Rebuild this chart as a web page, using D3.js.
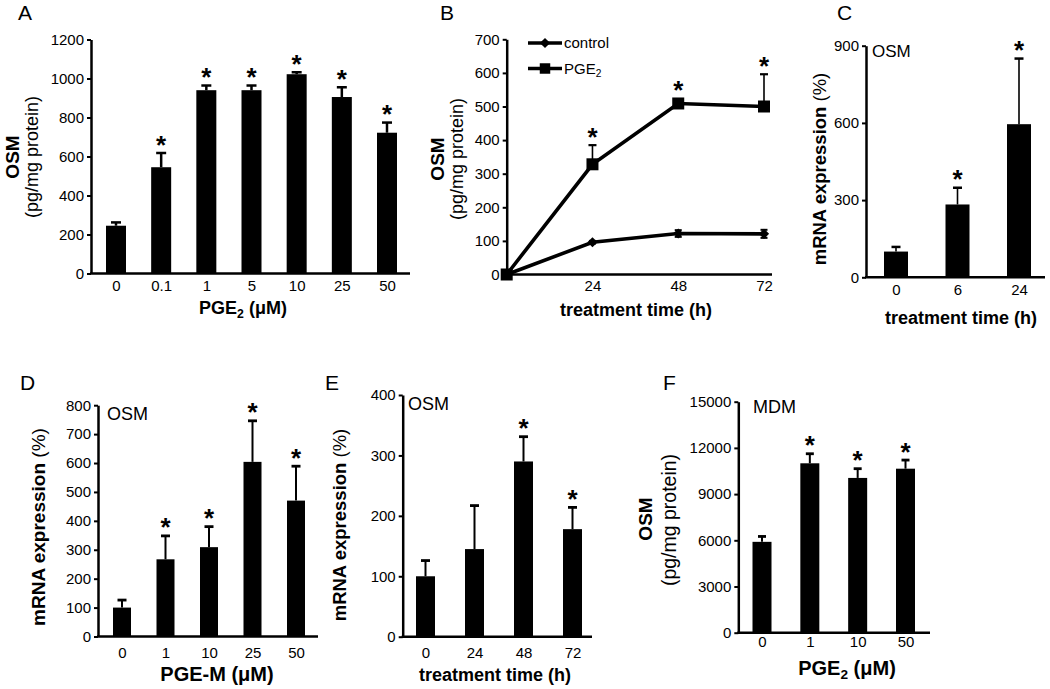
<!DOCTYPE html>
<html><head><meta charset="utf-8">
<script src="https://cdn.jsdelivr.net/npm/d3@7"></script>
<style>
body{margin:0;background:#fff;}
svg{display:block;}
</style></head><body>
<svg id="fig" width="1050" height="689"></svg>
<script>
// ---------------- DATA ----------------
// Panel A: OSM protein vs PGE2 dose
const aCategories = ["0","0.1","1","5","10","25","50"];
const aValues = [245, 545, 940, 940, 1022, 905, 722];
const aErrors = [17, 73, 24, 24, 10, 50, 52];
const aSignificant = [false, true, true, true, true, true, true];
const aTicks = [0, 200, 400, 600, 800, 1000, 1200];

// Panel B: OSM protein time course
const bTimes = [0, 24, 48, 72];
const bTimeTicks = [24, 48, 72];
const bControl = [0, 96, 122, 121];
const bControlErr = [0, 4, 10, 12];
const bPGE2 = [0, 328, 509, 500];
const bPGE2Err = [0, 57, 5, 96];
const bSignificant = [false, true, true, true];
const bTicks = [0, 100, 200, 300, 400, 500, 600, 700];
const bSeriesNames = ["control", "PGE2"];

// Panel C: OSM mRNA time course
const cCategories = ["0", "6", "24"];
const cValues = [100, 283, 595];
const cErrors = [18, 65, 255];
const cSignificant = [false, true, true];
const cTicks = [0, 300, 600, 900];

// Panel D: OSM mRNA vs PGE-M dose
const dCategories = ["0", "1", "10", "25", "50"];
const dValues = [100, 267, 309, 604, 470];
const dErrors = [26, 81, 71, 142, 119];
const dSignificant = [false, true, true, true, true];
const dTicks = [0, 100, 200, 300, 400, 500, 600, 700, 800];

// Panel E: OSM mRNA time course
const eCategories = ["0", "24", "48", "72"];
const eValues = [100, 145, 290, 178];
const eErrors = [26, 72, 41, 36];
const eSignificant = [false, false, true, true];
const eTicks = [0, 100, 200, 300, 400];

// Panel F: MDM OSM protein vs PGE2 dose
const fCategories = ["0", "1", "10", "50"];
const fValues = [5900, 11000, 10050, 10650];
const fErrors = [350, 620, 600, 560];
const fSignificant = [false, true, true, true];
const fTicks = [0, 3000, 6000, 9000, 12000, 15000];

// ---------------- DRAWING ----------------
const FONT = '"Liberation Sans", Arial, Helvetica, sans-serif';
const svg = d3.select("#fig");
svg.append("rect").attr("width",1050).attr("height",689).attr("fill","#fff");

function richText(parent, x, y, parts, opts) {
  const t = parent.append("text")
    .attr("font-family", FONT).attr("font-size", opts.fs)
    .attr("text-anchor", opts.anchor || "middle").attr("fill", "#000");
  if (opts.rotate) t.attr("transform", `translate(${x},${y}) rotate(-90)`);
  else t.attr("x", x).attr("y", y);
  if (opts.weight) t.attr("font-weight", opts.weight);
  let shift = 0;
  parts.forEach(p => {
    const s = t.append("tspan").text(p.t);
    if (p.w) s.attr("font-weight", p.w);
    if (p.sub) { s.attr("font-size", opts.fs * 0.68).attr("dy", opts.fs * 0.22); shift = opts.fs * 0.22; }
    else if (shift) { s.attr("dy", -shift); shift = 0; }
  });
  return t;
}

function letter(txt, x, y) {
  svg.append("text").attr("x", x).attr("y", y).attr("font-family", FONT)
    .attr("font-size", 21).attr("fill", "#000").text(txt);
}

function styleAxis(sel, fs, sw) {
  sel.attr("font-family", FONT).attr("font-size", fs);
  sel.select(".domain").attr("stroke", "#000").attr("stroke-width", sw);
  sel.selectAll(".tick line").attr("stroke", "#000").attr("stroke-width", 2);
  sel.selectAll(".tick text").attr("fill", "#000");
}

function addStar(g, x, yTopPx) {
  g.append("text").attr("x", x).attr("y", yTopPx + 6)
    .attr("text-anchor", "middle").attr("font-family", FONT)
    .attr("font-weight", "bold").attr("font-size", 26).attr("fill", "#000").text("*");
}

function barPanel(p) {
  const g = svg.append("g");
  const y = d3.scaleLinear().domain([0, p.yMax]).range([p.yBottom, p.yTop]);
  const x = d3.scalePoint().domain(p.categories).range([p.xFirst, p.xLast]);
  const rows = p.values.map((v, i) => ({ c: p.categories[i], v, e: p.errors[i], s: p.sig[i] }));

  g.selectAll("rect.bar").data(rows).join("rect").attr("class", "bar")
    .attr("x", d => x(d.c) - p.barW / 2).attr("y", d => y(d.v))
    .attr("width", p.barW).attr("height", d => y(0) - y(d.v)).attr("fill", "#000");

  g.selectAll("line.err").data(rows).join("line").attr("class", "err")
    .attr("x1", d => x(d.c)).attr("x2", d => x(d.c))
    .attr("y1", d => y(d.v)).attr("y2", d => y(d.v + d.e))
    .attr("stroke", "#000").attr("stroke-width", p.errW);
  g.selectAll("line.cap").data(rows).join("line").attr("class", "cap")
    .attr("x1", d => x(d.c) - p.capW / 2).attr("x2", d => x(d.c) + p.capW / 2)
    .attr("y1", d => y(d.v + d.e)).attr("y2", d => y(d.v + d.e))
    .attr("stroke", "#000").attr("stroke-width", p.capT);

  rows.filter(d => d.s).forEach(d => addStar(g, x(d.c), y(d.v + d.e) - p.capT / 2 - 4));

  const ya = g.append("g").attr("transform", `translate(${p.axisX},0)`)
    .call(d3.axisLeft(y).tickValues(p.ticks).tickSize(4).tickSizeOuter(0).tickPadding(3).tickFormat(d3.format("d")));
  styleAxis(ya, p.tickFs, 2.5);

  g.append("line").attr("x1", p.axisX - 1).attr("x2", p.xEnd)
    .attr("y1", y(0)).attr("y2", y(0)).attr("stroke", "#000").attr("stroke-width", 2.5);

  const xa = g.append("g").attr("transform", `translate(0,${y(0)})`)
    .call(d3.axisBottom(x).tickSize(0).tickPadding(p.xLabelBase - y(0) - 0.71 * p.tickFs));
  xa.select(".domain").remove();
  styleAxis(xa, p.tickFs, 2.5);
  return g;
}

// ---- Panel A ----
letter("A", 18, 20);
barPanel({categories: aCategories, values: aValues, errors: aErrors, sig: aSignificant, ticks: aTicks,
  yMax: 1200, yBottom: 273.5, yTop: 39.5, axisX: 91, xFirst: 116, xLast: 387, xEnd: 410,
  barW: 20, errW: 2.5, capW: 10, capT: 2.5, tickFs: 15, xLabelBase: 291});
richText(svg, 19, 157, [{t: "OSM"}], {fs: 19, rotate: true, weight: "bold"});
richText(svg, 38, 157, [{t: "(pg/mg protein)"}], {fs: 18, rotate: true});
richText(svg, 243, 314, [{t: "PGE"}, {t: "2", sub: true}, {t: " (μM)"}], {fs: 18, weight: "bold"});

// ---- Panel B ----
letter("B", 440, 20);
(function () {
  const g = svg.append("g");
  const y = d3.scaleLinear().domain([0, 700]).range([274.5, 39.3]);
  const x = d3.scaleLinear().domain([0, 72]).range([506.7, 764]);
  const line = d3.line().x(d => x(d[0])).y(d => y(d[1]));
  const ctrl = bTimes.map((t, i) => [t, bControl[i], bControlErr[i]]);
  const pge = bTimes.map((t, i) => [t, bPGE2[i], bPGE2Err[i], bSignificant[i]]);

  // error bars
  g.selectAll("line.pe").data(pge.filter(d => d[2] > 0)).join("line")
    .attr("x1", d => x(d[0])).attr("x2", d => x(d[0]))
    .attr("y1", d => y(d[1])).attr("y2", d => y(d[1] + d[2])).attr("stroke", "#000").attr("stroke-width", 1.6);
  g.selectAll("line.pc").data(pge.filter(d => d[2] > 0)).join("line")
    .attr("x1", d => x(d[0]) - 4).attr("x2", d => x(d[0]) + 4)
    .attr("y1", d => y(d[1] + d[2])).attr("y2", d => y(d[1] + d[2])).attr("stroke", "#000").attr("stroke-width", 2.2);
  g.selectAll("line.ce").data(ctrl.filter(d => d[2] > 0)).join("line")
    .attr("x1", d => x(d[0])).attr("x2", d => x(d[0]))
    .attr("y1", d => y(d[1] - d[2])).attr("y2", d => y(d[1] + d[2])).attr("stroke", "#000").attr("stroke-width", 1.6);
  g.selectAll("line.cc").data(ctrl.filter(d => d[2] > 0).flatMap(d => [d[1] - d[2], d[1] + d[2]].map(v => [d[0], v]))).join("line")
    .attr("x1", d => x(d[0]) - 3.5).attr("x2", d => x(d[0]) + 3.5)
    .attr("y1", d => y(d[1])).attr("y2", d => y(d[1])).attr("stroke", "#000").attr("stroke-width", 2);

  g.append("path").attr("d", line(pge)).attr("fill", "none").attr("stroke", "#000").attr("stroke-width", 3.6);
  g.append("path").attr("d", line(ctrl)).attr("fill", "none").attr("stroke", "#000").attr("stroke-width", 3.6);

  const sq = d3.symbol(d3.symbolSquare, 144);
  const dm = d3.symbol(d3.symbolSquare, 52);
  g.selectAll("path.sq").data(pge).join("path").attr("d", sq)
    .attr("transform", d => `translate(${x(d[0])},${y(d[1])})`).attr("fill", "#000");
  g.selectAll("path.dm").data(ctrl).join("path").attr("d", dm)
    .attr("transform", d => `translate(${x(d[0])},${y(d[1])}) rotate(45)`).attr("fill", "#000");

  pge.filter(d => d[3]).forEach(d => addStar(g, x(d[0]), Math.min(y(d[1] + d[2]) - 1.1, y(d[1]) - 6) - 4));

  const ya = g.append("g").attr("transform", "translate(506.7,0)")
    .call(d3.axisLeft(y).tickValues(bTicks).tickSize(4).tickSizeOuter(0).tickPadding(3));
  styleAxis(ya, 15, 2.5);
  g.append("line").attr("x1", 503).attr("x2", 772).attr("y1", y(0)).attr("y2", y(0))
    .attr("stroke", "#000").attr("stroke-width", 2.5);
  const xa = g.append("g").attr("transform", `translate(0,${y(0)})`)
    .call(d3.axisBottom(x).tickValues(bTimeTicks).tickSize(0).tickPadding(291 - y(0) - 0.71 * 15));
  xa.select(".domain").remove();
  styleAxis(xa, 15, 2.5);

  // legend
  const legY = [43, 68.5];
  legY.forEach((ly, i) => {
    g.append("line").attr("x1", 528).attr("x2", 562).attr("y1", ly).attr("y2", ly)
      .attr("stroke", "#000").attr("stroke-width", 3.6);
    g.append("path").attr("d", i === 0 ? dm : d3.symbol(d3.symbolSquare, 110))
      .attr("transform", `translate(545,${ly})` + (i === 0 ? " rotate(45)" : "")).attr("fill", "#000");
  });
  richText(g, 564, legY[0] + 5.4, [{t: bSeriesNames[0]}], {fs: 15, anchor: "start"});
  richText(g, 564, legY[1] + 5.4, [{t: "PGE"}, {t: "2", sub: true}], {fs: 15, anchor: "start"});
})();
richText(svg, 444, 159, [{t: "OSM"}], {fs: 19, rotate: true, weight: "bold"});
richText(svg, 463, 159, [{t: "(pg/mg protein)"}], {fs: 18, rotate: true});
richText(svg, 636, 316, [{t: "treatment time (h)"}], {fs: 18, weight: "bold"});

// ---- Panel C ----
letter("C", 837, 20);
barPanel({categories: cCategories, values: cValues, errors: cErrors, sig: cSignificant, ticks: cTicks,
  yMax: 900, yBottom: 277.3, yTop: 45.7, axisX: 866, xFirst: 896, xLast: 1019, xEnd: 1045,
  barW: 24, errW: 1.6, capW: 9, capT: 2.5, tickFs: 15, xLabelBase: 295.5});
richText(svg, 872, 57, [{t: "OSM"}], {fs: 17, anchor: "start"});
richText(svg, 826, 169, [{t: "mRNA expression", w: "bold"}, {t: " (%)"}], {fs: 18.5, rotate: true});
richText(svg, 961, 324, [{t: "treatment time (h)"}], {fs: 18, weight: "bold"});

// ---- Panel D ----
letter("D", 20, 390);
barPanel({categories: dCategories, values: dValues, errors: dErrors, sig: dSignificant, ticks: dTicks,
  yMax: 800, yBottom: 636.5, yTop: 405.2, axisX: 98, xFirst: 122, xLast: 296, xEnd: 318,
  barW: 18, errW: 2, capW: 9, capT: 2.8, tickFs: 15, xLabelBase: 658});
richText(svg, 107, 420, [{t: "OSM"}], {fs: 18, anchor: "start"});
richText(svg, 45, 527, [{t: "mRNA expression", w: "bold"}, {t: " (%)"}], {fs: 19, rotate: true});
richText(svg, 217, 681, [{t: "PGE-M (μM)"}], {fs: 20, weight: "bold"});

// ---- Panel E ----
letter("E", 325, 390);
barPanel({categories: eCategories, values: eValues, errors: eErrors, sig: eSignificant, ticks: eTicks,
  yMax: 400, yBottom: 636.7, yTop: 395, axisX: 402.7, xFirst: 425.5, xLast: 572.5, xEnd: 592,
  barW: 19, errW: 2, capW: 9, capT: 2.8, tickFs: 15, xLabelBase: 658.5});
richText(svg, 408, 410, [{t: "OSM"}], {fs: 18, anchor: "start"});
richText(svg, 346, 525, [{t: "mRNA expression", w: "bold"}, {t: " (%)"}], {fs: 18.5, rotate: true});
richText(svg, 495, 681, [{t: "treatment time (h)"}], {fs: 18, weight: "bold"});

// ---- Panel F ----
letter("F", 663, 390);
barPanel({categories: fCategories, values: fValues, errors: fErrors, sig: fSignificant, ticks: fTicks,
  yMax: 15000, yBottom: 632.7, yTop: 401.7, axisX: 738.3, xFirst: 762, xLast: 905.5, xEnd: 930,
  barW: 19, errW: 2, capW: 8, capT: 2.8, tickFs: 15, xLabelBase: 647});
richText(svg, 753, 413, [{t: "MDM"}], {fs: 18, anchor: "start"});
richText(svg, 652, 519, [{t: "OSM"}], {fs: 19, rotate: true, weight: "bold"});
richText(svg, 676, 520, [{t: "(pg/mg protein)"}], {fs: 19.5, rotate: true});
richText(svg, 847, 675, [{t: "PGE"}, {t: "2", sub: true}, {t: " (μM)"}], {fs: 20, weight: "bold"});
</script>
</body></html>
